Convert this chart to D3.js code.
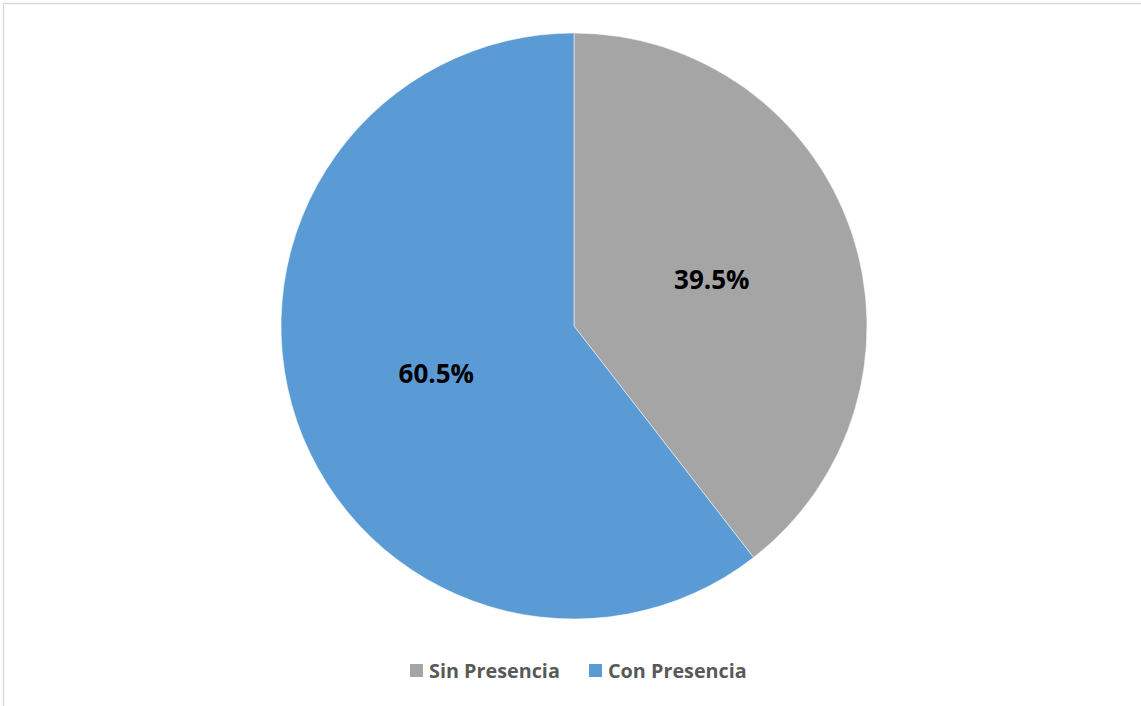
<!DOCTYPE html>
<html>
<head>
<meta charset="utf-8">
<script src="https://cdn.jsdelivr.net/npm/d3@7"></script>
<style>
  html, body { margin: 0; padding: 0; background: #fff; }
  svg { display: block; }
</style>
</head>
<body>
<svg id="chart" width="1141" height="706"></svg>
<script>
const categories = ["Sin Presencia", "Con Presencia"];
const values = [39.5, 60.5];
const labels = ["39.5%", "60.5%"];
const colors = ["#A5A5A5", "#5B9BD5"];

const svg = d3.select("#chart");
const W = 1141, H = 706;

// chart area border
svg.append("rect")
  .attr("x", 3.5).attr("y", 3.5)
  .attr("width", W + 10).attr("height", H + 10)
  .attr("fill", "#fff")
  .attr("stroke", "#d9d9d9")
  .attr("stroke-width", 1.5);

const cx = 574, cy = 326, r = 293;

const pie = d3.pie().sort(null).value(d => d.v);
const data = categories.map((c, i) => ({ c, v: values[i], label: labels[i], color: colors[i] }));
const arcs = pie(data);

const arc = d3.arc().innerRadius(0).outerRadius(r);
const labelArc = d3.arc().innerRadius(r * 0.497).outerRadius(r * 0.497);

const g = svg.append("g").attr("transform", `translate(${cx},${cy})`);

g.selectAll("path.slice")
  .data(arcs)
  .enter().append("path")
  .attr("class", "slice")
  .attr("d", arc)
  .attr("fill", d => d.data.color)
  .attr("stroke", "#fff")
  .attr("stroke-width", 0.5);

g.selectAll("text.lbl")
  .data(arcs)
  .enter().append("text")
  .attr("class", "lbl")
  .attr("transform", d => `translate(${labelArc.centroid(d)})`)
  .attr("text-anchor", "middle")
  .attr("dominant-baseline", "central")
  .attr("font-family", "'Open Sans', 'Liberation Sans', sans-serif")
  .attr("font-weight", "bold")
  .attr("font-size", 26)
  .attr("fill", "#000")
  .text(d => d.data.label);

// legend
const legendX = [410, 589];
const legend = svg.append("g");
const items = legend.selectAll("g.item")
  .data(data)
  .enter().append("g")
  .attr("class", "item")
  .attr("transform", (d, i) => `translate(${legendX[i]},664)`);

items.append("rect")
  .attr("width", 13).attr("height", 13)
  .attr("fill", d => d.color);

items.append("text")
  .attr("x", 19).attr("y", 13.5)
  .attr("font-family", "'Open Sans', 'Liberation Sans', sans-serif")
  .attr("font-weight", "bold")
  .attr("font-size", 19.8)
  .attr("fill", "#595959")
  .text(d => d.c);
</script>
</body>
</html>
